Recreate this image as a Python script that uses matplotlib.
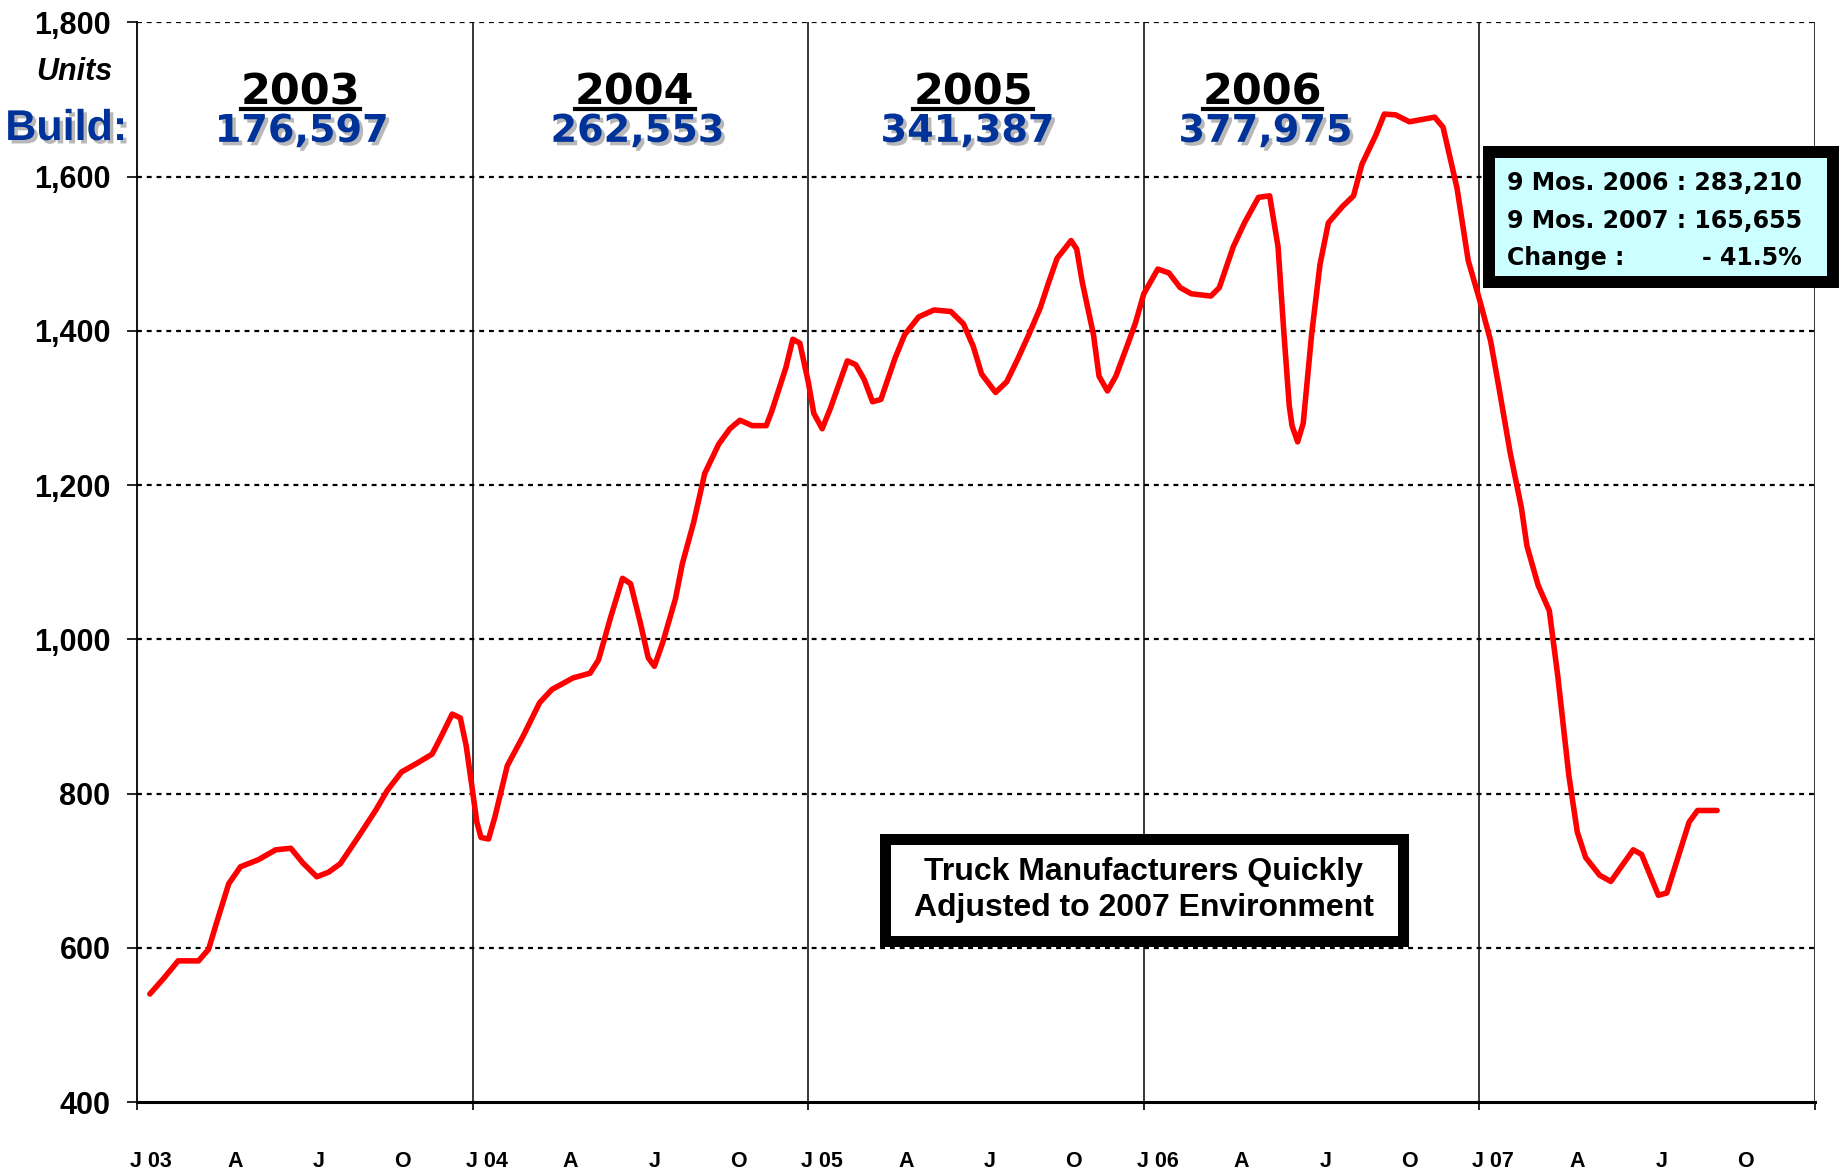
import matplotlib
matplotlib.use("Agg")
import matplotlib.pyplot as plt
import matplotlib.patheffects as pe
from matplotlib.patches import Rectangle
from matplotlib.lines import Line2D

# ---- data (x = months since Jan 2003) ----
month_pos = [0.46, 0.97, 1.47, 2.2, 2.56, 2.85, 3.28, 3.7, 4.33, 4.96, 5.5, 5.93, 6.43, 6.85, 7.27,
             7.9, 8.53, 8.95, 9.46, 10.0, 10.55, 10.85, 11.27, 11.56, 11.77, 11.98, 12.15, 12.3,
             12.57, 12.8, 13.24, 13.8, 14.4, 14.84, 15.6, 16.2, 16.5, 16.94, 17.36, 17.65, 18.0,
             18.28, 18.5, 18.8, 19.25, 19.5, 19.9, 20.3, 20.8, 21.2, 21.56, 22.0, 22.5, 22.7,
             23.2, 23.45, 23.7, 24.0, 24.2, 24.5, 24.8, 25.2, 25.4, 25.7, 26.0, 26.3, 26.6, 27.1,
             27.45, 27.95, 28.5, 29.1, 29.55, 29.9, 30.2, 30.7, 31.1, 31.5, 31.9, 32.3, 32.6,
             32.9, 33.4, 33.6, 33.8, 34.2, 34.4, 34.7, 35.0, 35.4, 35.7, 36.0, 36.5, 36.9, 37.3,
             37.7, 38.4, 38.7, 39.2, 39.6, 40.1, 40.5, 40.8, 41.0, 41.2, 41.3, 41.5, 41.7, 42.0,
             42.3, 42.6, 43.1, 43.5, 43.8, 44.3, 44.6, 45.0, 45.5, 46.4, 46.7, 47.2, 47.6, 48.0,
             48.4, 48.7, 49.1, 49.5, 49.7, 50.1, 50.5, 50.8, 51.2, 51.5, 51.8, 52.3, 52.7, 53.5,
             53.8, 54.4, 54.7, 55.5, 55.8, 56.5]
units = [540, 561, 583, 583, 598, 633, 683, 705, 714, 727, 729, 710, 692, 698, 709,
         743, 778, 804, 828, 839, 851, 872, 903, 898, 862, 808, 763, 743,
         741, 770, 836, 874, 918, 935, 950, 956, 973, 1029, 1079, 1072, 1021,
         976, 965, 996, 1052, 1098, 1151, 1215, 1253, 1273, 1284, 1277, 1277, 1296,
         1352, 1389, 1384, 1334, 1293, 1273, 1300, 1341, 1361, 1356, 1337, 1308, 1311, 1364,
         1395, 1418, 1427, 1425, 1409, 1380, 1344, 1320, 1334, 1364, 1396, 1430, 1463,
         1494, 1517, 1506, 1463, 1395, 1341, 1322, 1341, 1380, 1410, 1448, 1480, 1475, 1456,
         1448, 1445, 1456, 1509, 1540, 1573, 1575, 1509, 1402, 1303, 1277, 1256, 1280, 1395,
         1486, 1540, 1561, 1575, 1616, 1654, 1681, 1680, 1671, 1677, 1664, 1585, 1491, 1441,
         1387, 1326, 1242, 1171, 1121, 1070, 1037, 953, 823, 750, 717, 694, 686, 727,
         721, 668, 671, 763, 778, 778]

tick_labels = ["J 03", "A", "J", "O", "J 04", "A", "J", "O", "J 05", "A", "J", "O",
               "J 06", "A", "J", "O", "J 07", "A", "J", "O"]
y_ticks = [400, 600, 800, 1000, 1200, 1400, 1600, 1800]

years = ["2003", "2004", "2005", "2006"]
year_builds = ["176,597", "262,553", "341,387", "377,975"]
year_label_x = [5.84, 17.8, 29.9, 40.25]
build_label_x = [5.89, 17.9, 29.7, 40.35]

info_lines = ["9 Mos. 2006 : 283,210", "9 Mos. 2007 : 165,655"]
change_label = "Change :"
change_value = "- 41.5%"
box_text = "Truck Manufacturers Quickly\nAdjusted to 2007 Environment"

W, H = 1842, 1174
fig = plt.figure(figsize=(W / 100, H / 100), dpi=100)
ax = fig.add_axes([137 / W, 1 - 1102 / H, (1815 - 137) / W, (1102 - 22.3) / H])

BLUE = "#003399"
shadow = [pe.SimplePatchShadow(offset=(2.5, -2.5), shadow_rgbFace="#b8b8b8", alpha=1.0), pe.Normal()]

ax.set_xlim(0, 60)
ax.set_ylim(400, 1800)

# gridlines
for v in y_ticks[1:]:
    ax.axhline(v, color="black", lw=1.6, linestyle=(0, (2.2, 2.2)), zorder=1)
for yr in range(12, 61, 12):
    ax.axvline(yr, color="black", lw=1.1, zorder=1)

ax.plot(month_pos, units, color="#FF0000", lw=4.0, solid_joinstyle="round",
        solid_capstyle="round", zorder=3)

for s in ["top", "right"]:
    ax.spines[s].set_visible(False)
ax.spines["left"].set_linewidth(1.3)
ax.spines["bottom"].set_linewidth(2.2)

ax.set_yticks(y_ticks)
ax.set_yticklabels([f"{v:,}" for v in y_ticks], fontfamily="Liberation Sans",
                   fontweight="bold", fontsize=22)
ax.tick_params(axis="y", length=7, width=1.2, pad=12)

ax.set_xticks(range(0, 61, 12))
ax.set_xticklabels([])
ax.tick_params(axis="x", which="major", length=6, width=1.2)
ax.set_xticks([0.5 + 3 * i for i in range(len(tick_labels))], minor=True)
ax.set_xticklabels(tick_labels, minor=True, fontfamily="Liberation Sans",
                   fontweight="bold", fontsize=15.5)
ax.tick_params(axis="x", which="minor", length=0, pad=35)


def fx(px):
    return px / W


def fy(py):
    return 1 - py / H


# year headers (baseline positioned)
year_texts = []
for lbl, xl in zip(years, year_label_x):
    t = ax.text(xl, 1694, lbl, ha="center", va="baseline", fontsize=31,
                fontfamily="DejaVu Sans", fontweight="bold", color="black", zorder=5)
    year_texts.append(t)
for lbl, xl in zip(year_builds, build_label_x):
    ax.text(xl, 1645, lbl, ha="center", va="baseline", fontsize=27.5,
            fontfamily="DejaVu Sans", fontweight="bold", color=BLUE,
            path_effects=shadow, zorder=5)

fig.text(fx(74), fy(72), "Units", ha="center", va="center", fontsize=22,
         fontfamily="Liberation Sans", fontweight="bold", style="italic")
fig.text(fx(66), fy(129), "Build:", ha="center", va="center", fontsize=31,
         fontfamily="Liberation Sans", fontweight="bold", color=BLUE, path_effects=shadow)

# info box
bw = 12
ib = Rectangle((fx(1483 + bw / 2), fy(288 - bw / 2)), fx(1839 - 1483 - bw), (288 - 146 - bw) / H,
               transform=fig.transFigure, facecolor="#CCFFFF", edgecolor="black",
               lw=bw * 72 / 100, zorder=10)
fig.add_artist(ib)
for i, l in enumerate(info_lines):
    fig.text(fx(1507), fy(183 + 37.5 * i), l, ha="left", va="center", fontsize=17,
             fontfamily="DejaVu Sans", fontweight="bold", zorder=11)
fig.text(fx(1507), fy(258), change_label, ha="left", va="center", fontsize=17,
         fontfamily="DejaVu Sans", fontweight="bold", zorder=11)
fig.text(fx(1802), fy(258), change_value, ha="right", va="center", fontsize=17,
         fontfamily="DejaVu Sans", fontweight="bold", zorder=11)

# text box
bw2 = 11
tb = Rectangle((fx(879 + bw2 / 2), fy(946 - bw2 / 2)), fx(1408 - 879 - bw2), (946 - 833 - bw2) / H,
               transform=fig.transFigure, facecolor="white", edgecolor="black",
               lw=bw2 * 72 / 100, zorder=10)
fig.add_artist(tb)
fig.text(fx(1143.5), fy(890), box_text, ha="center", va="center", fontsize=23,
         fontfamily="Liberation Sans", fontweight="bold", linespacing=1.25, zorder=11)

# underline year headers
fig.canvas.draw()
r = fig.canvas.get_renderer()
for t in year_texts:
    bb = t.get_window_extent(r)
    yline = fy(109)
    fig.add_artist(Line2D([bb.x0 / W, bb.x1 / W], [yline, yline],
                          transform=fig.transFigure, color="black", lw=3.0))

fig.savefig("out.png", dpi=100)
